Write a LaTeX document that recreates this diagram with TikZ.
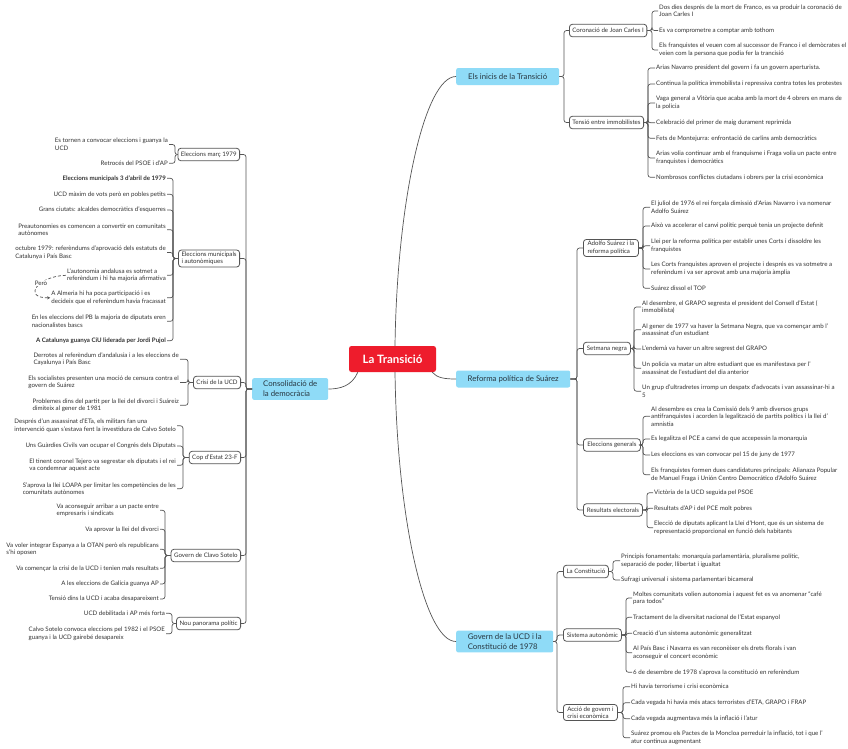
\documentclass[tikz,border=0pt]{standalone}
\usepackage{fontspec}
\setmainfont{Lato}
\usetikzlibrary{arrows.meta}
\definecolor{tred}{RGB}{238,28,44}
\definecolor{tblue}{RGB}{143,219,247}
\definecolor{lnc}{RGB}{85,85,85}
\definecolor{txc}{RGB}{51,51,51}
\definecolor{tpc}{RGB}{40,55,65}
\newcommand\brR[3]{\foreach \ch in {#3}{\draw[conn] (#1.east) -- (#2,0 |- #1.east) |- (\ch.west);}}
\newcommand\brL[3]{\foreach \ch in {#3}{\draw[conn] (#1.west) -- (#2,0 |- #1.west) |- (\ch.east);}}
\tikzset{
 conn/.style={draw=lnc, line width=0.7pt, rounded corners=2.5pt},
 rootbox/.style={fill=tred, text=white, rounded corners=2.5pt, font=\fontsize{11.5}{13}\selectfont\bfseries, minimum width=87pt, minimum height=26pt, inner sep=0pt},
 topic/.style={fill=tblue, text=tpc, rounded corners=2pt, font=\fontsize{7.8}{10}\selectfont, align=left, inner xsep=5pt, inner ysep=3pt, minimum height=17pt},
 sub/.style={draw=lnc, fill=white, line width=0.8pt, rounded corners=3pt, text=txc, font=\fontsize{6.15}{7.5}\selectfont, align=left, inner xsep=3pt, inner ysep=2pt, minimum height=12.5pt},
 leaf/.style={text=txc, font=\fontsize{6.15}{7.5}\selectfont, align=left, inner sep=1pt},
 rl/.style={leaf, anchor=west},
 ll/.style={leaf, anchor=east},
 bl/.style={font=\fontsize{6.15}{7.5}\selectfont\bfseries},
}
\begin{document}
\begin{tikzpicture}[x=1pt,y=-1pt]
\fill[white] (0,0) rectangle (848,748);
\useasboundingbox (0,0) rectangle (848,748);

% root and topics
\node[rootbox] (root) at (392.5,359) {La Transició};
\node[topic, anchor=west, minimum width=103pt] (inicis) at (456,76.5) {Els inicis de la Transició};
\node[topic, anchor=west, minimum width=114pt] (reforma) at (456,379) {Reforma política de Suárez};
\node[topic, anchor=west, minimum width=76pt] (consol) at (252,389) {Consolidació de\\la democràcia};
\node[topic, anchor=west, minimum width=97pt] (govern) at (456,641.5) {Govern de la UCD i la\\Constitució de 1978};

\draw[conn] ([xshift=2.5pt]root.north) .. controls (397,200) and (425,76.5) .. (inicis.west);
\draw[conn] ([xshift=2.5pt]root.south) .. controls (397,520) and (425,641.5) .. (govern.west);
\draw[conn] ([xshift=-4pt]root.south east) .. controls (437,378) and (445,379) .. (reforma.west);
\draw[conn] ([xshift=9pt]root.south west) .. controls (352,386) and (340,389) .. (consol.east);

% ---- Els inicis
\node[sub, anchor=west, minimum width=77pt] (coron) at (569,30.5) {Coronació de Joan Carles I};
\node[sub, anchor=west, minimum width=72pt] (tensio) at (569,122.5) {Tensió entre immobilistes};
\brR{inicis}{564}{coron,tensio}

\node[rl] (c1) at (658,11) {Dos dies després de la mort de Franco, es va produir la coronació de\\Joan Carles I};
\node[rl] (c2) at (658,30.5) {Es va comprometre a comptar amb tothom};
\node[rl] (c3) at (658,50) {Els franquistes el veuen com al successor de Franco i el demòcrates el\\veien com la persona que podia fer la trancisió};
\brR{coron}{652}{c1,c2,c3}

\node[rl] (t1) at (655,68) {Arias Navarro president del govern i fa un govern aperturista.};
\node[rl] (t2) at (655,84) {Continua la política immobilista i repressiva contra totes les protestes};
\node[rl] (t3) at (655,103) {Vaga general a Vitòria que acaba amb la mort de 4 obrers en mans de\\la policia};
\node[rl] (t4) at (655,122.7) {Celebració del primer de maig durament reprimida};
\node[rl] (t5) at (655,138.3) {Fets de Montejurra: enfrontació de carlins amb democràtics};
\node[rl] (t6) at (655,158) {Arias volia continuar amb el franquisme i Fraga volia un pacte entre\\franquistes i democràtics};
\node[rl] (t7) at (655,177.3) {Nombrosos conflictes ciutadans i obrers per la crisi econòmica};
\brR{tensio}{648}{t1,t2,t3,t4,t5,t6,t7}

% ---- Reforma
\node[sub, anchor=west, minimum width=55pt] (adolfo) at (583,248) {Adolfo Suárez i la\\reforma política};
\node[sub, anchor=west, minimum width=47pt] (setm) at (583,348.5) {Setmana negra};
\node[sub, anchor=west, minimum width=57pt] (elecg) at (583,445) {Eleccions generals};
\node[sub, anchor=west, minimum width=59pt] (result) at (583,510) {Resultats electorals};
\brR{reforma}{577}{adolfo,setm,elecg,result}

\node[rl] (a1) at (650,207.3) {El juliol de 1976 el rei forçala dimissió d'Arias Navarro i va nomenar\\Adolfo Suárez};
\node[rl] (a2) at (650,226) {Això va accelerar el canvi polític perquè tenia un projecte definit};
\node[rl] (a3) at (650,245.8) {Llei per la reforma política per establir unes Corts i dissoldre les\\franquistes};
\node[rl] (a4) at (650,269) {Les Corts franquistes aproven el projecte i després es va sotmetre a\\referèndum i va ser aprovat amb una majoria àmplia};
\node[rl] (a5) at (650,288.3) {Suárez dissol el TOP};
\brR{adolfo}{643}{a1,a2,a3,a4,a5}

\node[rl] (s1) at (641,307) {Al desembre, el GRAPO segresta el president del Consell d'Estat (\\immobilista)};
\node[rl] (s2) at (641,329.7) {Al gener de 1977 va haver la Setmana Negra, que va començar amb l'\\assassinat d'un estudiant};
\node[rl] (s3) at (641,349) {L'endemà va haver un altre segrest del GRAPO};
\node[rl] (s4) at (641,368.2) {Un policia va matar un altre estudiant que es manifestava per l'\\assassinat de l'estudiant del dia anterior};
\node[rl] (s5) at (641,391.2) {Un grup d'ultradretes irromp un despatx d'advocats i van assassinar-hi a\\5};
\brR{setm}{634}{s1,s2,s3,s4,s5}

\node[rl] (e1) at (650,416.3) {Al desembre es crea la Comissió dels 9 amb diversos grups\\antifranquistes i acorden la legalització de partits polítics i la llei d'\\amnistia};
\node[rl] (e2) at (650,439) {Es legalitza el PCE a canvi de que accepessin la monarquia};
\node[rl] (e3) at (650,455) {Les eleccions es van convocar pel 15 de juny de 1977};
\node[rl] (e4) at (650,474.7) {Els franquistes formen dues candidatures principals: Alianaza Popular\\de Manuel Fraga i Unión Centro Democrático d'Adolfo Suárez};
\brR{elecg}{643}{e1,e2,e3,e4}

\node[rl] (r1) at (653,492.7) {Victòria de la UCD seguida pel PSOE};
\node[rl] (r2) at (653,508.3) {Resultats d'AP i del PCE molt pobres};
\node[rl] (r3) at (653,527.8) {Elecció de diputats aplicant la Llei d'Hont, que és un sistema de\\representació proporcional en funció dels habitants};
\brR{result}{647}{r1,r2,r3}

% ---- Govern UCD
\node[sub, anchor=west, minimum width=45pt] (constit) at (563,571.5) {La Constitució};
\node[sub, anchor=west, minimum width=58pt] (sistema) at (563,635) {Sistema autonòmic};
\node[sub, anchor=west, minimum width=54pt] (accio) at (563,712.5) {Acció de govern i\\crisi econòmica};
\brR{govern}{557}{constit,sistema,accio}

\node[rl] (k1) at (620,560.7) {Principis fonamentals: monarquia parlamentària, pluralisme polític,\\separació de poder, llibertat i igualtat};
\node[rl] (k2) at (620,580) {Sufragi universal i sistema parlamentari bicameral};
\brR{constit}{613}{k1,k2}

\node[rl] (m1) at (632,598) {Moltes comunitats volien autonomia i aquest fet es va anomenar “café\\para todos”};
\node[rl] (m2) at (632,617.3) {Tractament de la diversitat nacional de l'Estat espanyol};
\node[rl] (m3) at (632,633.3) {Creació d'un sistema autonòmic generalitzat};
\node[rl] (m4) at (632,652.8) {Al País Basc i Navarra es van reconèixer els drets florals i van\\aconseguir el concert econòmic};
\node[rl] (m5) at (632,672.3) {6 de desembre de 1978 s'aprova la constitució en referèndum};
\brR{sistema}{626}{m1,m2,m3,m4,m5}

\node[rl] (g1) at (630,686.7) {Hi havia terrorisme i crisi econòmica};
\node[rl] (g2) at (630,702.7) {Cada vegada hi havia més atacs terroristes d'ETA, GRAPO i FRAP};
\node[rl] (g3) at (630,718.7) {Cada vegada augmentava més la inflació i l'atur};
\node[rl] (g4) at (630,737.8) {Suárez promou els Pactes de la Moncloa perreduir la inflació, tot i que l'\\atur continua augmentant};
\brR{accio}{623}{g1,g2,g3,g4}

% ---- Consolidació
\node[sub, anchor=east, minimum width=58pt] (marc) at (240,154.5) {Eleccions març 1979};
\node[sub, anchor=east, minimum width=59pt] (munic) at (240,258.5) {Eleccions municipals\\i autonòmiques};
\node[sub, anchor=east, minimum width=46pt] (crisi) at (241,382.5) {Crisi de la UCD};
\node[sub, anchor=east, minimum width=50pt] (cop) at (241,457.5) {Cop d'Estat 23-F};
\node[sub, anchor=east, minimum width=68pt] (clavo) at (241,555.5) {Govern de Clavo Sotelo};
\node[sub, anchor=east, minimum width=63pt] (nou) at (241,623.5) {Nou panorama polític};
\brL{consol}{246}{marc,munic,crisi,cop,clavo,nou}

\node[ll] (p1) at (169,144.5) {Es tornen a convocar eleccions i guanya la\\UCD};
\node[ll] (p2) at (169,163.3) {Retrocés del PSOE i d'AP};
\brL{marc}{175}{p1,p2}

\node[ll, bl] (u1) at (167,178.3) {Eleccions municipals 3 d'abril de 1979};
\node[ll] (u2) at (167,194.3) {UCD màxim de vots però en pobles petits};
\node[ll] (u3) at (167,210) {Grans ciutats: alcaldes democràtics d'esquerres};
\node[ll] (u4) at (167,229.7) {Preautonomies es comencen a convertir en comunitats\\autònomes};
\node[ll] (u5) at (167,252.5) {octubre 1979: referèndums d'aprovació dels estatuts de\\Catalunya i País Basc};
\node[ll] (u6) at (167,275.3) {L'autonomia andalusa es sotmet a\\referèndum i hi ha majoria afirmativa};
\node[ll] (u7) at (167,297.8) {A Almeria hi ha poca participació i es\\decideix que el referèndum havia fracassat};
\node[ll] (u8) at (167,321.3) {En les eleccions del PB la majoria de diputats eren\\nacionalistes bascs};
\node[ll, bl] (u9) at (167,340.7) {A Catalunya guanya CiU liderada per Jordi Pujol};
\brL{munic}{173}{u1,u2,u3,u4,u5,u6,u7,u8,u9}
\draw[lnc, line width=0.7pt, dash pattern=on 3pt off 2pt, -{Stealth[length=3pt,width=3pt]}]
  (u6.west) .. controls (38,276) and (22,298) .. (u7.west)
  node[pos=0.38, fill=white, inner sep=0.5pt, text=txc, font=\fontsize{6.15}{7.5}\selectfont] (pero) {Però};

\node[ll] (cr1) at (180,359.2) {Derrotes al referèndum d'andalusia i a les eleccions de\\Cayalunya i País Basc};
\node[ll] (cr2) at (180,382.5) {Els socialistes presenten una moció de censura contra el\\govern de Suárez};
\node[ll] (cr3) at (180,405.3) {Problemes dins del partit per la llei del divorci i Suáreiz\\dimiteix al gener de 1981};
\brL{crisi}{188}{cr1,cr2,cr3}

\node[ll] (o1) at (177,425.8) {Després d'un assassinat d'ETa, els militars fan una\\intervenció quan s'estava fent la investidura de Calvo Sotelo};
\node[ll] (o2) at (177,446) {Uns Guàrdies Civils van ocupar el Congrés dels Diputats};
\node[ll] (o3) at (177,465.3) {El tinent coronel Tejero va segrestar els diputats i el rei\\va condemnar aquest acte};
\node[ll] (o4) at (177,488.7) {S'aprova la llei LOAPA per limitar les competències de les\\comunitats autònomes};
\brL{cop}{183}{o1,o2,o3,o4}

\node[ll] (v1) at (160,510.3) {Va aconseguir arribar a un pacte entre\\empresaris i sindicats};
\node[ll] (v2) at (160,529.3) {Va aprovar la llei del divorci};
\node[ll] (v3) at (160,549.3) {Va voler integrar Espanya a la OTAN però els republicans\\s'hi oposen};
\node[ll] (v4) at (160,568.3) {Va començar la crisi de la UCD i tenien mals resultats};
\node[ll] (v5) at (160,584) {A les eleccions de Galícia guanya AP};
\node[ll] (v6) at (160,599) {Tensió dins la UCD i acaba desapareixent};
\brL{clavo}{165}{v1,v2,v3,v4,v5,v6}

\node[ll] (n1) at (166,613.3) {UCD debilitada i AP més forta};
\node[ll] (n2) at (166,633.8) {Calvo Sotelo convoca eleccions pel 1982 i el PSOE\\guanya i la UCD gairebé desapareix};
\brL{nou}{172}{n1,n2}
\end{tikzpicture}
\end{document}
